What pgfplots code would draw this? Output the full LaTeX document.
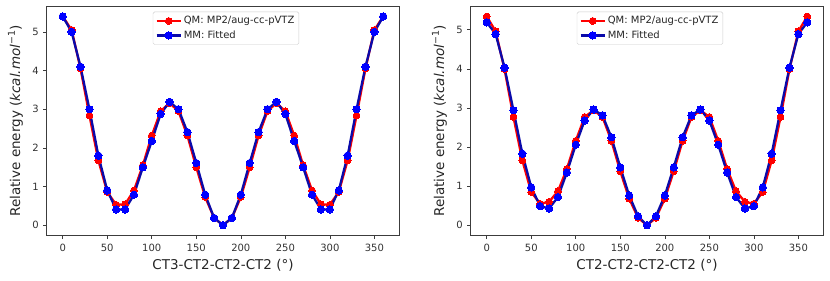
\documentclass[border=0pt]{standalone}
\usepackage{pgfplots}
\usepackage{pgfplotstable}
\pgfplotsset{compat=1.18}
\usepackage{fontspec}
\setmainfont{DejaVu Sans}
\definecolor{navy}{RGB}{10,10,170}
\definecolor{mblue}{RGB}{0,0,255}
\definecolor{mred}{RGB}{255,0,0}
\definecolor{axgray}{RGB}{60,60,60}

\pgfplotstableread{
ang qm mm
0 5.40 5.40
10 5.05 5.00
20 4.05 4.10
30 2.84 3.00
40 1.68 1.80
50 0.86 0.90
60 0.53 0.41
70 0.54 0.41
80 0.90 0.79
90 1.55 1.50
100 2.32 2.18
110 2.95 2.88
120 3.16 3.19
130 2.95 3.00
140 2.32 2.41
150 1.50 1.61
160 0.73 0.79
170 0.19 0.19
180 0.00 0.00
190 0.19 0.19
200 0.73 0.79
210 1.50 1.61
220 2.32 2.41
230 2.95 3.00
240 3.16 3.19
250 2.95 2.88
260 2.32 2.18
270 1.55 1.50
280 0.90 0.79
290 0.54 0.41
300 0.53 0.41
310 0.86 0.90
320 1.68 1.80
330 2.84 3.00
340 4.05 4.10
350 5.05 5.00
360 5.40 5.40
}\leftdata

\pgfplotstableread{
ang qm mm
0 5.34 5.19
10 4.96 4.89
20 3.99 4.03
30 2.77 2.94
40 1.66 1.83
50 0.85 0.97
60 0.55 0.49
70 0.60 0.43
80 0.87 0.72
90 1.44 1.35
100 2.16 2.06
110 2.77 2.68
120 2.94 2.96
130 2.77 2.81
140 2.16 2.25
150 1.38 1.48
160 0.68 0.76
170 0.19 0.23
180 0.00 0.00
190 0.19 0.23
200 0.68 0.76
210 1.38 1.48
220 2.16 2.25
230 2.77 2.81
240 2.94 2.96
250 2.77 2.68
260 2.16 2.06
270 1.44 1.35
280 0.87 0.72
290 0.60 0.43
300 0.55 0.49
310 0.85 0.97
320 1.66 1.83
330 2.77 2.94
340 3.99 4.03
350 4.96 4.89
360 5.34 5.19
}\rightdata

\pgfplotsset{
  myaxis/.style={
    scale only axis,
    width=352.6pt, height=229.7pt,
    anchor=south west,
    xmin=-18, xmax=378,
    xtick={0,50,...,350},
    ytick={0,1,...,5},
    tick align=outside,
    tick pos=left,
    major tick length=3.5pt,
    every tick/.style={axgray, line width=0.6pt},
    axis line style={axgray, line width=0.7pt},
    /pgf/number format/assume math mode=true,
    ticklabel style={font=\fontsize{10}{12}\selectfont, text=black!80},
    xticklabel style={yshift=-1pt},
    yticklabel style={xshift=-1pt},
    label style={font=\fontsize{13.5}{16}\selectfont, text=black!85},
    xlabel style={at={(axis description cs:0.5,0)}, anchor=base, yshift=-34pt},
    ylabel style={at={(axis description cs:0,0.5)}, anchor=center, yshift=31.2pt},
    ylabel={Relative energy (\textit{kcal.mol}\textsuperscript{−1})},
    legend style={at={(axis description cs:0.301,0.975)}, anchor=north west,
      font=\fontsize{10}{12}\selectfont, draw=black!20, rounded corners=1.5pt,
      row sep=1.5pt, inner sep=2.5pt, text=black!85},
    legend cell align=left,
    legend image code/.code={
      \draw[##1, mark repeat=2, mark phase=2] plot coordinates {(0pt,0pt) (12pt,0pt) (24pt,0pt)};
    },
  },
  qmstyle/.style={color=mred, line width=2.3pt, mark=*, mark size=3.4pt, mark options={fill=mred, draw=mred, line width=0pt}},
  mmstyle/.style={color=navy, line width=2.3pt, mark=*, mark size=3.7pt, mark options={fill=mblue, draw=mblue, line width=0pt}},
}

\begin{document}
\begin{tikzpicture}
\useasboundingbox (0,0) rectangle (830pt,281pt);
\begin{axis}[myaxis, at={(46.7pt,45.3pt)}, ymin=-0.27, ymax=5.67,
  xlabel={CT3-CT2-CT2-CT2 (°)}]
\addplot[qmstyle] table[x=ang, y=qm] {\leftdata};
\addlegendentry{QM: MP2/aug-cc-pVTZ}
\addplot[mmstyle] table[x=ang, y=mm] {\leftdata};
\addlegendentry{MM: Fitted}
\end{axis}
\begin{axis}[myaxis, at={(470.7pt,45.3pt)}, ymin=-0.267, ymax=5.607,
  xlabel={CT2-CT2-CT2-CT2 (°)}]
\addplot[qmstyle] table[x=ang, y=qm] {\rightdata};
\addlegendentry{QM: MP2/aug-cc-pVTZ}
\addplot[mmstyle] table[x=ang, y=mm] {\rightdata};
\addlegendentry{MM: Fitted}
\end{axis}
\end{tikzpicture}
\end{document}
